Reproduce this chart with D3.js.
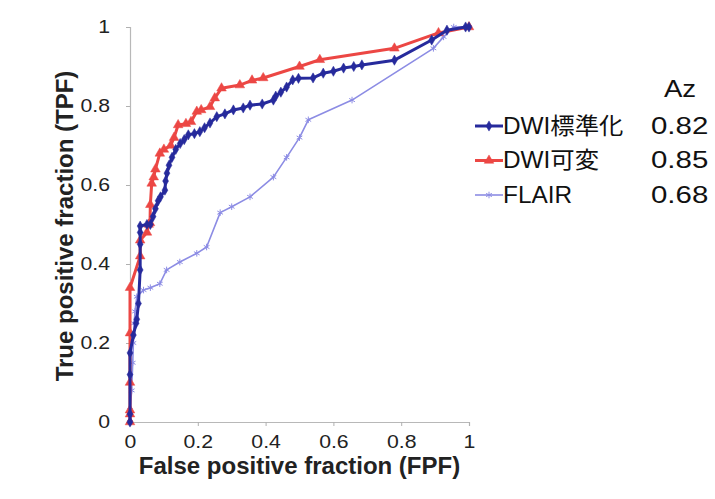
<!DOCTYPE html>
<html>
<head>
<meta charset="utf-8">
<script src="https://cdn.jsdelivr.net/npm/d3@7"></script>
<style>
  html, body { margin: 0; padding: 0; background: #fff; }
  svg text { font-family: "Liberation Sans", Arial, "Noto Sans CJK JP", sans-serif; }
</style>
</head>
<body>
<div id="chart"></div>
<script>
// ROC points (FPF, TPF)
const dwiStdFpf = [0, 0, 0, 0, 0.01, 0.018, 0.02, 0.025, 0.03, 0.03, 0.03, 0.03, 0.05, 0.06, 0.068, 0.075, 0.083, 0.09, 0.103, 0.105, 0.109, 0.115, 0.124, 0.135, 0.148, 0.16, 0.172, 0.19, 0.206, 0.22, 0.236, 0.256, 0.28, 0.305, 0.334, 0.354, 0.39, 0.423, 0.43, 0.445, 0.462, 0.48, 0.497, 0.54, 0.57, 0.6, 0.63, 0.66, 0.684, 0.78, 0.89, 0.935, 0.99, 1];
const dwiStdTpf = [0, 0.02, 0.12, 0.175, 0.22, 0.25, 0.26, 0.3, 0.385, 0.45, 0.48, 0.496, 0.5, 0.5, 0.52, 0.54, 0.56, 0.57, 0.587, 0.61, 0.63, 0.65, 0.67, 0.69, 0.705, 0.715, 0.727, 0.73, 0.735, 0.745, 0.757, 0.773, 0.78, 0.79, 0.795, 0.802, 0.805, 0.815, 0.825, 0.835, 0.848, 0.866, 0.87, 0.871, 0.883, 0.888, 0.896, 0.9, 0.904, 0.916, 0.967, 0.992, 1, 1];

const dwiVarFpf = [0, 0, 0, 0, 0, 0, 0.03, 0.03, 0.05, 0.055, 0.059, 0.06, 0.064, 0.07, 0.075, 0.088, 0.1, 0.12, 0.13, 0.142, 0.165, 0.18, 0.197, 0.21, 0.236, 0.25, 0.27, 0.324, 0.36, 0.393, 0.5, 0.56, 0.78, 0.91, 1];
const dwiVarTpf = [0, 0.02, 0.03, 0.1, 0.225, 0.34, 0.42, 0.46, 0.48, 0.5, 0.504, 0.55, 0.604, 0.62, 0.64, 0.68, 0.69, 0.7, 0.72, 0.752, 0.755, 0.76, 0.786, 0.79, 0.798, 0.82, 0.845, 0.853, 0.865, 0.871, 0.9, 0.917, 0.946, 0.985, 1];

const flairFpf = [0, 0, 0.005, 0.008, 0.01, 0.012, 0.015, 0.02, 0.04, 0.06, 0.088, 0.108, 0.147, 0.197, 0.226, 0.266, 0.3, 0.354, 0.423, 0.462, 0.5, 0.526, 0.655, 0.895, 0.925, 0.955, 1];
const flairTpf = [0, 0.03, 0.08, 0.15, 0.2, 0.25, 0.28, 0.317, 0.334, 0.34, 0.35, 0.385, 0.405, 0.427, 0.443, 0.53, 0.545, 0.57, 0.62, 0.67, 0.72, 0.765, 0.815, 0.946, 0.975, 1, 1];

const seriesNames = ["DWI標準化", "DWI可変", "FLAIR"];
const azValues = ["0.82", "0.85", "0.68"];
const tickValues = [0, 0.2, 0.4, 0.6, 0.8, 1];

const width = 715, height = 499;
const margin = {top: 27, right: 246, bottom: 77, left: 130};

const series = [
  {name: seriesNames[0], fpf: dwiStdFpf, tpf: dwiStdTpf, color: "#262a9c", lw: 3, symbol: d3.symbolDiamond, size: 30, fill: true},
  {name: seriesNames[1], fpf: dwiVarFpf, tpf: dwiVarTpf, color: "#ec4744", lw: 3, symbol: d3.symbolTriangle, size: 40, fill: true},
  {name: seriesNames[2], fpf: flairFpf, tpf: flairTpf, color: "#8c8ce4", lw: 1.6, symbol: d3.symbolAsterisk, size: 30, fill: false}
];

// the source text is a little wider than Liberation Sans, stretch it horizontally
function stretch(sel, k) {
  sel.each(function() {
    const t = d3.select(this);
    const xv = +t.attr("x") || 0;
    t.attr("x", xv / k).attr("transform", "scale(" + k + ",1)");
  });
}

const svg = d3.select("#chart").append("svg")
  .attr("width", width)
  .attr("height", height);

svg.append("rect").attr("width", width).attr("height", height).attr("fill", "#fff");

const x = d3.scaleLinear().domain([0, 1]).range([margin.left, width - margin.right]);
const y = d3.scaleLinear().domain([0, 1]).range([height - margin.bottom, margin.top]);

// axes
const fmt = d => d === 0 || d === 1 ? String(d) : d3.format(".1f")(d);

const xAxis = svg.append("g")
  .attr("transform", "translate(0," + y(0) + ")")
  .call(d3.axisBottom(x).tickValues(tickValues).tickFormat(fmt).tickSize(4).tickPadding(9));
const yAxis = svg.append("g")
  .attr("transform", "translate(" + x(0) + ",0)")
  .call(d3.axisLeft(y).tickValues(tickValues).tickFormat(fmt).tickSize(4).tickPadding(16));

[xAxis, yAxis].forEach(g => {
  g.select(".domain").attr("stroke", "#b8b8b8").attr("stroke-width", 1.2);
  g.selectAll(".tick line").attr("stroke", "#b0b0b0");
  g.selectAll(".tick text").attr("fill", "#222").style("font-size", "18px")
    .call(stretch, 1.18);
});

svg.append("text")
  .attr("x", (x(0) + x(1)) / 2)
  .attr("y", 474)
  .attr("text-anchor", "middle")
  .style("font-size", "24px")
  .style("font-weight", "bold")
  .attr("fill", "#222")
  .text("False positive fraction (FPF)");

svg.append("text")
  .attr("transform", "translate(73,226) rotate(-90)")
  .attr("text-anchor", "middle")
  .style("font-size", "24px")
  .style("font-weight", "bold")
  .attr("fill", "#222")
  .text("True positive fraction (TPF)");

// lines and markers (FLAIR first so it sits underneath)
const line = d3.line().x(d => x(d[0])).y(d => y(d[1]));

series.slice().reverse().forEach(s => {
  const pts = s.fpf.map((v, i) => [v, s.tpf[i]]);
  svg.append("path")
    .datum(pts)
    .attr("d", line)
    .attr("fill", "none")
    .attr("stroke", s.color)
    .attr("stroke-width", s.lw)
    .attr("stroke-linejoin", "round");
  svg.append("g")
    .selectAll("path")
    .data(pts)
    .join("path")
    .attr("transform", d => "translate(" + x(d[0]) + "," + y(d[1]) + ")")
    .attr("d", d3.symbol().type(s.symbol).size(s.size))
    .attr("fill", s.fill ? s.color : "none")
    .attr("stroke", s.color)
    .attr("stroke-width", s.fill ? 0.5 : 1);
});

// legend
const legend = svg.append("g");
legend.append("text")
  .attr("x", 680).attr("y", 97)
  .attr("text-anchor", "middle")
  .style("font-size", "23px")
  .attr("fill", "#111")
  .text("Az")
  .call(stretch, 1.2);

series.forEach((s, i) => {
  const ly = 126 + i * 34.5;
  const row = legend.append("g").attr("transform", "translate(0," + ly + ")");
  row.append("line")
    .attr("x1", 475).attr("x2", 503)
    .attr("stroke", s.color).attr("stroke-width", s.lw);
  row.append("path")
    .attr("transform", "translate(489,0)")
    .attr("d", d3.symbol().type(s.symbol).size(s.size))
    .attr("fill", s.fill ? s.color : "none")
    .attr("stroke", s.color)
    .attr("stroke-width", s.fill ? 0.5 : 1);
  row.append("text")
    .attr("x", 503).attr("y", 7.5)
    .style("font-size", "23px")
    .attr("fill", "#111")
    .text(s.name)
    .call(stretch, 1.06);
  row.append("text")
    .attr("x", 651).attr("y", 7.5)
    .style("font-size", "23px")
    .attr("fill", "#111")
    .text(azValues[i])
    .call(stretch, 1.28);
});
</script>
</body>
</html>
